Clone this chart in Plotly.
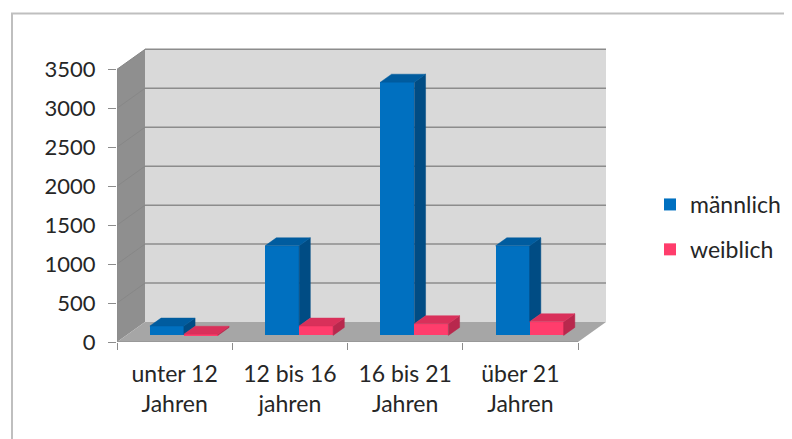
import plotly.graph_objects as go

# ---- data ----
categories = ["unter 12<br>Jahren", "12 bis 16<br>jahren", "16 bis 21<br>Jahren", "über 21<br>Jahren"]
maennlich = [120, 1150, 3250, 1150]
weiblich = [15, 120, 150, 175]
y_ticks = [0, 500, 1000, 1500, 2000, 2500, 3000, 3500]
series_names = ["männlich", "weiblich"]

# ---- geometry / style constants (reference pixel coords) ----
W_PX, H_PX = 792, 439
OFF = 8                 # page body margin of the html page
FW, FH = W_PX - OFF, H_PX - OFF
PX_X = 115.25           # px per category unit
PX_Y = 39 / 500         # px per value unit
X0_PX, Y0_PX = 117, 342
DEPTH_X = 28 / PX_X
DEPTH_Y = 20 / PX_Y
YTOP = y_ticks[-1]
XMAX = len(categories) - 0.5 + DEPTH_X
YMAX = YTOP + DEPTH_Y + 30
F0, FB = 0.33, 0.4
SX, SY = F0 * DEPTH_X, F0 * DEPTH_Y
BDX, BDY = FB * DEPTH_X, FB * DEPTH_Y
BW = 34 / PX_X

pw = (XMAX + 0.5) * PX_X
ph = YMAX * PX_Y
ml = X0_PX - OFF
mr = FW - ml - pw
mb = FH - (Y0_PX - OFF)
mt = FH - mb - ph

BLUE, BLUE_SIDE, BLUE_TOP = "#0070C0", "#004C84", "#005C9F"
RED, RED_SIDE, RED_TOP = "#FF3D6C", "#B8284D", "#D9305A"
FONT = "Lato"
TXT = "#262626"

fig = go.Figure()
xs = list(range(len(categories)))

fig.add_trace(go.Bar(x=xs, y=maennlich, base=[SY] * len(xs), width=BW, offset=SX - BW,
                     marker=dict(color=BLUE, line=dict(width=0)), name=series_names[0],
                     legendgroup="m"))
fig.add_trace(go.Bar(x=xs, y=weiblich, base=[SY] * len(xs), width=BW, offset=SX,
                     marker=dict(color=RED, line=dict(width=0)), name=series_names[1],
                     legendgroup="w"))


def poly_trace(polys, color):
    px, py = [], []
    for p in polys:
        for (a, b) in p + [p[0]]:
            px.append(a)
            py.append(b)
        px.append(None)
        py.append(None)
    return go.Scatter(x=px, y=py, mode="lines", fill="toself", fillcolor=color,
                      line=dict(color=color, width=0.5), showlegend=False, hoverinfo="skip")


blue_top, blue_side, red_top, red_side = [], [], [], []
for i, (vm, vw) in enumerate(zip(maennlich, weiblich)):
    xl = i + SX - BW
    xm = i + SX
    xr = i + SX + BW
    tm = SY + vm
    tw = SY + vw
    blue_top.append([(xl, tm), (xm, tm), (xm + BDX, tm + BDY), (xl + BDX, tm + BDY)])
    blue_side.append([(xm, tw), (xm, tm), (xm + BDX, tm + BDY), (xm + BDX, tw + BDY)])
    red_top.append([(xm, tw), (xr, tw), (xr + BDX, tw + BDY), (xm + BDX, tw + BDY)])
    red_side.append([(xr, SY), (xr, tw), (xr + BDX, tw + BDY), (xr + BDX, SY + BDY)])

fig.add_trace(poly_trace(blue_side, BLUE_SIDE))
fig.add_trace(poly_trace(blue_top, BLUE_TOP))
fig.add_trace(poly_trace(red_side, RED_SIDE))
fig.add_trace(poly_trace(red_top, RED_TOP))

# ---- walls and floor ----
xa, xb = -0.5, len(categories) - 0.5
shapes = []


def path(pts):
    return "M " + " L ".join(f"{a},{b}" for a, b in pts) + " Z"


shapes.append(dict(type="path", path=path([(xa + DEPTH_X, DEPTH_Y), (xb + DEPTH_X, DEPTH_Y),
                                            (xb + DEPTH_X, YTOP + DEPTH_Y), (xa + DEPTH_X, YTOP + DEPTH_Y)]),
                   fillcolor="#D9D9D9", line=dict(width=0), layer="below"))
shapes.append(dict(type="path", path=path([(xa, 0), (xa + DEPTH_X, DEPTH_Y),
                                            (xa + DEPTH_X, YTOP + DEPTH_Y), (xa, YTOP)]),
                   fillcolor="#8F8F8F", line=dict(width=0), layer="below"))
shapes.append(dict(type="path", path=path([(xa, 0), (xb, 0), (xb + DEPTH_X, DEPTH_Y), (xa + DEPTH_X, DEPTH_Y)]),
                   fillcolor="#A6A6A6", line=dict(width=0), layer="below"))
for v in y_ticks[1:]:
    shapes.append(dict(type="line", x0=xa + DEPTH_X, x1=xb + DEPTH_X, y0=v + DEPTH_Y, y1=v + DEPTH_Y,
                       line=dict(color="#8C8C8C", width=1.5), layer="below"))
    shapes.append(dict(type="line", x0=xa, x1=xa + DEPTH_X, y0=v, y1=v + DEPTH_Y,
                       line=dict(color="#878787", width=1), layer="below"))
shapes.append(dict(type="line", x0=xa, x1=xb, y0=0, y1=0, line=dict(color="#8C8C8C", width=1.2), layer="below"))
shapes.append(dict(type="line", x0=xa, x1=xa, y0=0, y1=YTOP, line=dict(color="#8C8C8C", width=1), layer="below"))


# outer chart frame (paper coords from reference pixels)
def paper_x(p):
    return (p - OFF - ml) / pw


def paper_y(p):
    return (FH - mb - (p - OFF)) / ph


shapes.append(dict(type="rect", xref="paper", yref="paper",
                   x0=paper_x(12), x1=paper_x(W_PX + 20),
                   y0=paper_y(H_PX + 20), y1=paper_y(13),
                   line=dict(color="#BFBFBF", width=2), fillcolor="rgba(0,0,0,0)", layer="below"))

fig.update_layout(
    width=FW, height=FH, autosize=False,
    margin=dict(l=ml, r=mr, t=mt, b=mb, pad=0),
    paper_bgcolor="white", plot_bgcolor="white",
    barmode="overlay", bargap=0,
    shapes=shapes,
    font=dict(family=FONT, size=23, color=TXT),
    xaxis=dict(range=[xa, XMAX], tickmode="array", tickvals=xs, ticktext=categories,
               showgrid=False, zeroline=False, showline=False, ticks="",
               ticklabelstandoff=16,
               minor=dict(tickmode="array", tickvals=[x - 0.5 for x in xs] + [xb],
                          ticks="outside", ticklen=7, tickcolor="#8C8C8C", showgrid=False),
               tickfont=dict(family=FONT, size=23, color=TXT), fixedrange=True),
    yaxis=dict(range=[0, YMAX], tickmode="array", tickvals=y_ticks, ticktext=[str(v) for v in y_ticks],
               showgrid=False, zeroline=False, showline=False, ticks="outside", ticklen=8,
               ticklabelstandoff=8,
               tickcolor="#8C8C8C", tickfont=dict(family=FONT, size=22, color=TXT), fixedrange=True),
    legend=dict(xref="container", yref="container", x=(650 - OFF) / FW, y=1 - (183 - OFF) / FH,
                xanchor="left", yanchor="top", traceorder="grouped", tracegroupgap=12,
                font=dict(family=FONT, size=23, color=TXT), bgcolor="rgba(0,0,0,0)"),
)

fig.write_html("out.html")
